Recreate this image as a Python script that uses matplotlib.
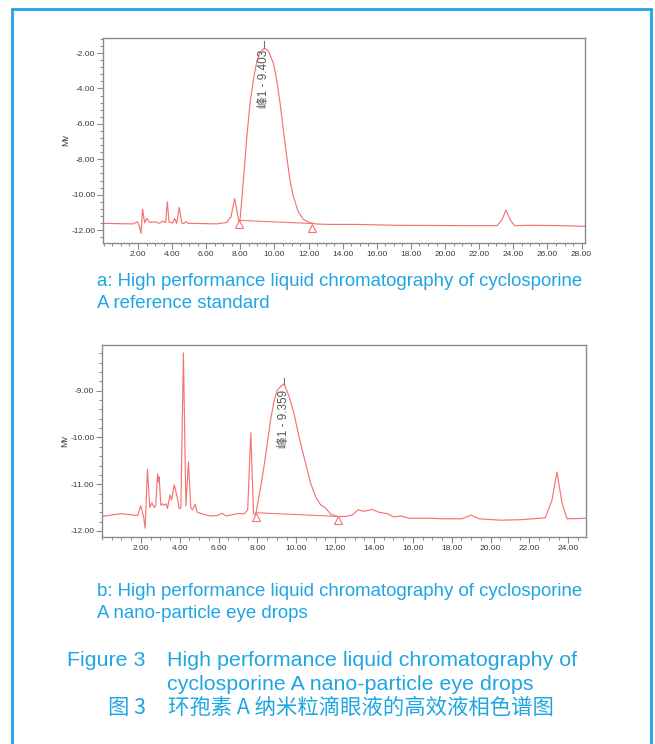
import numpy as np
import matplotlib
matplotlib.use("Agg")
import matplotlib.pyplot as plt
from matplotlib.ticker import MultipleLocator, FormatStrFormatter
from matplotlib.lines import Line2D

plt.rcParams['font.family'] = ['Liberation Sans', 'Noto Sans CJK SC', 'DejaVu Sans']

# ---------------- data ----------------
top_time = [0.0, 0.94, 1.73, 1.96, 2.08, 2.18, 2.27, 2.39, 2.51, 2.70, 3.00, 3.25, 3.48, 3.62,
            3.72, 3.82, 4.03, 4.15, 4.27, 4.42, 4.56, 4.66, 4.82, 4.95, 5.64, 6.62, 7.20, 7.45,
            7.67, 7.79, 7.90, 7.98, 8.18, 8.38, 8.57, 8.76, 8.96, 9.16, 9.41, 9.64, 9.94, 10.13,
            10.33, 10.52, 10.72, 10.91, 11.11, 11.40, 11.70, 12.09, 12.48, 13.26, 14.83, 17.17,
            21.08, 23.04, 23.33, 23.57, 23.82, 24.07, 24.99, 26.95, 28.2]
top_signal = [-11.62, -11.64, -11.65, -11.53, -11.77, -12.19, -10.81, -11.59, -11.34, -11.57,
              -11.53, -11.62, -11.49, -11.58, -10.40, -11.55, -11.60, -11.34, -11.62, -10.72,
              -11.58, -11.64, -11.53, -11.62, -11.63, -11.65, -11.57, -11.25, -10.21, -10.87,
              -11.47, -11.44, -9.18, -6.73, -4.84, -3.53, -2.49, -1.93, -1.73, -1.87, -2.58,
              -3.53, -4.84, -6.35, -7.86, -9.18, -10.12, -10.97, -11.40, -11.59, -11.66, -11.68,
              -11.68, -11.73, -11.75, -11.75, -11.43, -10.87, -11.43, -11.75, -11.73, -11.75, -11.79]
top_peak_time = 9.41
top_peak_signal = -1.73
top_peak_label = "峰1 - 9.403"
top_base_time = [7.93, 12.20]
top_base_signal = [-11.45, -11.63]

bot_time = [0.0, 0.97, 1.83, 2.00, 2.14, 2.22, 2.34, 2.46, 2.57, 2.69, 2.77, 2.86, 2.90, 2.94,
            3.03, 3.11, 3.20, 3.30, 3.37, 3.50, 3.58, 3.72, 3.86, 3.98, 4.06, 4.19, 4.32, 4.45,
            4.57, 4.66, 4.79, 4.90, 5.27, 5.60, 5.95, 6.17, 6.38, 6.98, 7.32, 7.50, 7.66, 7.80,
            7.91, 8.17, 8.34, 8.51, 8.68, 8.85, 9.03, 9.20, 9.37, 9.63, 9.88, 10.14, 10.31, 10.48,
            10.74, 11.00, 11.25, 11.51, 11.77, 12.11, 12.54, 12.88, 13.18, 13.48, 13.91, 14.25,
            14.68, 15.02, 15.40, 15.80, 16.90, 17.60, 18.54, 19.00, 19.40, 20.51, 21.54, 22.82,
            23.17, 23.42, 23.68, 23.94, 24.9]
bot_signal = [-11.69, -11.63, -11.67, -11.46, -11.70, -11.94, -10.68, -11.50, -11.40, -11.50,
              -11.45, -10.78, -10.95, -10.84, -11.45, -11.42, -11.45, -11.42, -11.52, -11.23,
              -11.34, -11.01, -11.26, -11.53, -11.50, -8.19, -11.46, -10.52, -11.50, -11.55,
              -11.43, -11.60, -11.65, -11.68, -11.67, -11.62, -11.68, -11.63, -11.63, -11.55,
              -9.90, -11.63, -11.66, -11.05, -10.62, -10.12, -9.62, -9.23, -8.98, -8.91, -8.85,
              -9.12, -9.48, -9.98, -10.27, -10.55, -10.98, -11.27, -11.44, -11.51, -11.64,
              -11.69, -11.69, -11.66, -11.55, -11.58, -11.54, -11.60, -11.63, -11.70, -11.68,
              -11.73, -11.73, -11.74, -11.74, -11.66, -11.74, -11.77, -11.76, -11.72, -11.33,
              -10.74, -11.40, -11.74, -11.73]
bot_peak_time = 9.37
bot_peak_signal = -8.85
bot_peak_label = "峰1 - 9.359"
bot_base_time = [7.91, 12.14]
bot_base_signal = [-11.61, -11.69]

top_xticks = [2, 4, 6, 8, 10, 12, 14, 16, 18, 20, 22, 24, 26, 28]
top_yticks = [-12, -10, -8, -6, -4, -2]
bot_xticks = [2, 4, 6, 8, 10, 12, 14, 16, 18, 20, 22, 24]
bot_yticks = [-12, -11, -10, -9]

caption_a = ["a: High performance liquid chromatography of cyclosporine",
             "A reference standard"]
caption_b = ["b: High performance liquid chromatography of cyclosporine",
             "A nano-particle eye drops"]
fig_label_en = "Figure 3"
fig_title_en = ["High performance liquid chromatography of",
                "cyclosporine A nano-particle eye drops"]
fig_label_zh = "图 3"
fig_title_zh = "环孢素 A 纳米粒滴眼液的高效液相色谱图"

# ---------------- style ----------------
W, H = 655, 744
TRACE = '#f47474'
SPINE = '#8a8a8a'
TXT = '#3a3a3a'
BLUE = '#1ea5e3'

fig = plt.figure(figsize=(W / 100, H / 100), dpi=100)
fig.patch.set_facecolor('white')


def fx(px):
    return px / W


def fy(py):
    return 1 - py / H


def style_axes(ax, xlim, ylim, xticks, yticks, xminor, yminor):
    ax.set_xlim(*xlim)
    ax.set_ylim(*ylim)
    ax.set_xticks(xticks)
    ax.set_yticks(yticks)
    ax.xaxis.set_minor_locator(MultipleLocator(xminor))
    ax.yaxis.set_minor_locator(MultipleLocator(yminor))
    ax.xaxis.set_major_formatter(FormatStrFormatter('%.2f'))
    ax.yaxis.set_major_formatter(FormatStrFormatter('%.2f'))
    for s in ax.spines.values():
        s.set_color(SPINE)
        s.set_linewidth(1.0)
    ax.tick_params(which='major', direction='out', length=4, width=0.8, color=SPINE,
                   labelsize=6, labelcolor=TXT, pad=1.5)
    ax.tick_params(which='minor', direction='out', length=2.5, width=0.7, color=SPINE)
    ax.set_ylabel('Mv', fontsize=6.5, color=TXT, labelpad=1)


def draw_chrom(ax, t, s, pk_t, pk_s, label, base_t, base_s, line_up, text_gap):
    ax.plot(t, s, color=TRACE, lw=0.85)
    ax.plot(base_t, base_s, color=TRACE, lw=0.8)
    ax.plot(base_t, [base_s[0], base_s[1]], linestyle='none', marker='^', markersize=6,
            mfc='white', mec=TRACE, mew=0.8,
            transform=ax.transData + matplotlib.transforms.ScaledTranslation(0, -4 / 100, fig.dpi_scale_trans))
    ax.plot([pk_t, pk_t], [pk_s, pk_s + line_up], color='#707070', lw=0.8)
    ax.text(pk_t, pk_s - text_gap, label, rotation=90, ha='center', va='top',
            fontsize=8.5, color='#555555',
            family=['Liberation Sans', 'Noto Sans CJK SC', 'DejaVu Sans'])


# top chart
ax1 = fig.add_axes([fx(103), fy(243), fx(585 - 103), (243 - 38) / H])
style_axes(ax1, (-0.05, 28.2), (-12.73, -1.15), top_xticks, top_yticks, 0.5, 0.4)
draw_chrom(ax1, top_time, top_signal, top_peak_time, top_peak_signal, top_peak_label,
           top_base_time, top_base_signal, 0.4, 0.1)

# bottom chart
ax2 = fig.add_axes([fx(102), fy(537), fx(585.7 - 102), (537 - 345) / H])
style_axes(ax2, (0.0, 24.9), (-12.13, -8.02), bot_xticks, bot_yticks, 0.5, 0.2)
draw_chrom(ax2, bot_time, bot_signal, bot_peak_time, bot_peak_signal, bot_peak_label,
           bot_base_time, bot_base_signal, 0.12, 0.12)

# captions
cap_kw = dict(color=BLUE, fontsize=13.45, ha='left', va='center', family=['Liberation Sans'])
fig.text(fx(97), fy(281), caption_a[0], **cap_kw)
fig.text(fx(97), fy(303), caption_a[1], **cap_kw)
fig.text(fx(97), fy(591), caption_b[0], **cap_kw)
fig.text(fx(97), fy(614), caption_b[1], **cap_kw)

tit_kw = dict(color=BLUE, fontsize=15.4, ha='left', va='center', family=['Liberation Sans'])
fig.text(fx(67), fy(661), fig_label_en, **tit_kw)
fig.text(fx(167), fy(661), fig_title_en[0], **tit_kw)
fig.text(fx(167), fy(684), fig_title_en[1], **tit_kw)
zh_kw = dict(color=BLUE, fontsize=15.4, ha='left', va='center',
             family=['Noto Sans CJK SC', 'Liberation Sans'])
fig.text(fx(108), fy(708), fig_label_zh, **zh_kw)
fig.text(fx(168), fy(708), fig_title_zh, **zh_kw)

# blue frame (open at the bottom)
frame_kw = dict(color=BLUE, lw=2.0, transform=fig.transFigure, solid_capstyle='butt')
fig.add_artist(Line2D([fx(12), fx(12)], [fy(8), 0], **frame_kw))
fig.add_artist(Line2D([fx(651), fx(651)], [fy(8), 0], **frame_kw))
fig.add_artist(Line2D([fx(11), fx(652)], [fy(9), fy(9)], **frame_kw))

fig.savefig('out.png', dpi=100)
